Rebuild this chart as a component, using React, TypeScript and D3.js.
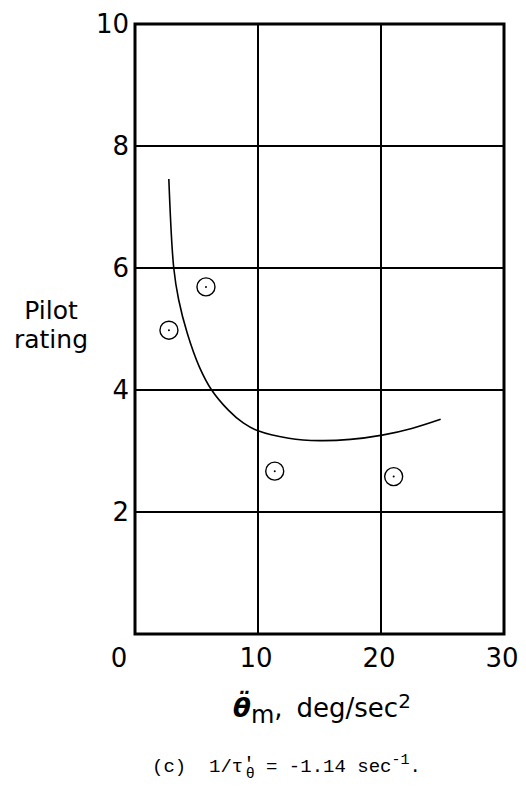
import { useEffect, useRef } from "react"
import * as d3 from "d3"

// data
const xTicks = [0, 10, 20, 30]
const yTicks = [2, 4, 6, 8, 10]
const pointX = [2.76, 5.77, 11.36, 21.03]
const pointY = [4.98, 5.69, 2.67, 2.58]
const curveX = [2.75, 3.15, 3.55, 4.25, 5.23, 6.23, 7.59, 8.8, 10.0, 12.5, 15.0, 17.5, 20.1, 22.5, 24.85]
const curveY = [7.46, 6.0, 5.48, 4.93, 4.38, 4.0, 3.67, 3.46, 3.33, 3.21, 3.17, 3.19, 3.26, 3.37, 3.52]

const W = 526
const H = 795
const left = 135
const right = 504
const top = 24
const bottom = 634

const labelFont = "'DejaVu Sans', sans-serif"
const monoFont = "'Liberation Mono', monospace"

function App() {
    const ref = useRef<SVGSVGElement>(null)

    useEffect(() => {
        const svg = d3.select(ref.current)
        svg.selectAll("*").remove()

        const x = d3.scaleLinear().domain([0, 30]).range([left, right])
        const y = d3.scaleLinear().domain([0, 10]).range([bottom, top])

        // Grid
        const grid = svg.append("g").attr("stroke", "#000").attr("stroke-width", 2)
        grid.selectAll(".vgrid")
            .data([10, 20])
            .enter()
            .append("line")
            .attr("x1", d => x(d))
            .attr("x2", d => x(d))
            .attr("y1", top)
            .attr("y2", bottom)
        grid.selectAll(".hgrid")
            .data([2, 4, 6, 8])
            .enter()
            .append("line")
            .attr("x1", left)
            .attr("x2", right)
            .attr("y1", d => y(d))
            .attr("y2", d => y(d))

        // Frame
        svg.append("rect")
            .attr("x", left)
            .attr("y", top)
            .attr("width", right - left)
            .attr("height", bottom - top)
            .attr("fill", "none")
            .attr("stroke", "#000")
            .attr("stroke-width", 3)

        // Tick labels
        svg.append("g")
            .selectAll("text")
            .data(yTicks)
            .enter()
            .append("text")
            .attr("x", left - 6)
            .attr("y", d => y(d))
            .attr("dy", "0.36em")
            .attr("text-anchor", "end")
            .attr("font-family", labelFont)
            .attr("font-size", 26)
            .text(d => d)

        svg.append("g")
            .selectAll("text")
            .data(xTicks)
            .enter()
            .append("text")
            .attr("x", d => x(d) + (d === 0 ? -16 : -2))
            .attr("y", 667)
            .attr("text-anchor", "middle")
            .attr("font-family", labelFont)
            .attr("font-size", 26)
            .text(d => d)

        // Fitted curve
        const curvePts: [number, number][] = curveX.map((v, i) => [v, curveY[i]])
        const line = d3.line<[number, number]>()
            .x(d => x(d[0]))
            .y(d => y(d[1]))
            .curve(d3.curveCatmullRom)
        svg.append("path")
            .attr("d", line(curvePts))
            .attr("fill", "none")
            .attr("stroke", "#000")
            .attr("stroke-width", 1.6)

        // Data points
        const pts = svg.append("g")
            .selectAll("g")
            .data(pointX.map((v, i) => [v, pointY[i]]))
            .enter()
            .append("g")
            .attr("transform", d => `translate(${x(d[0])},${y(d[1])})`)
        pts.append("circle")
            .attr("r", 9)
            .attr("fill", "#fff")
            .attr("stroke", "#000")
            .attr("stroke-width", 1.4)
        pts.append("circle")
            .attr("r", 1)
            .attr("fill", "#000")

        // Y axis title
        const yt = svg.append("text")
            .attr("font-family", labelFont)
            .attr("font-size", 25)
            .attr("text-anchor", "middle")
        yt.append("tspan").attr("x", 51).attr("y", 319).text("Pilot")
        yt.append("tspan").attr("x", 51).attr("y", 348).text("rating")

        // X axis title
        const xt = svg.append("text")
            .attr("x", 233)
            .attr("y", 717)
            .attr("font-family", labelFont)
            .attr("font-size", 26)
        xt.append("tspan").attr("font-style", "italic").attr("font-weight", "bold").text("θ\u0308")
        xt.append("tspan").attr("dy", 6).attr("font-size", 24).text("m")
        xt.append("tspan").attr("dy", -6).text(",")
        xt.append("tspan").attr("dx", 14).text("deg/sec")
        xt.append("tspan").attr("dy", -9).attr("font-size", 20).text("2")

        // Caption
        const cap = svg.append("text")
            .attr("x", 152)
            .attr("y", 772)
            .attr("font-family", monoFont)
            .attr("font-size", 19)
            .style("white-space", "pre")
        cap.append("tspan").text("(c)  1/τ")
        cap.append("tspan").attr("dy", -3).text("′")
        cap.append("tspan").attr("dx", -9).attr("dy", 9).attr("font-size", 15).text("θ")
        cap.append("tspan").attr("dy", -6).text(" = -1.14 sec")
        cap.append("tspan").attr("dy", -8).attr("font-size", 15).text("-1")
        cap.append("tspan").attr("dy", 8).text(".")
    })

    return (
        <svg ref={ref} width={W} height={H}
            style={{ position: "absolute", left: 0, top: 0, background: "#fff" }}></svg>
    )
}

export default App
